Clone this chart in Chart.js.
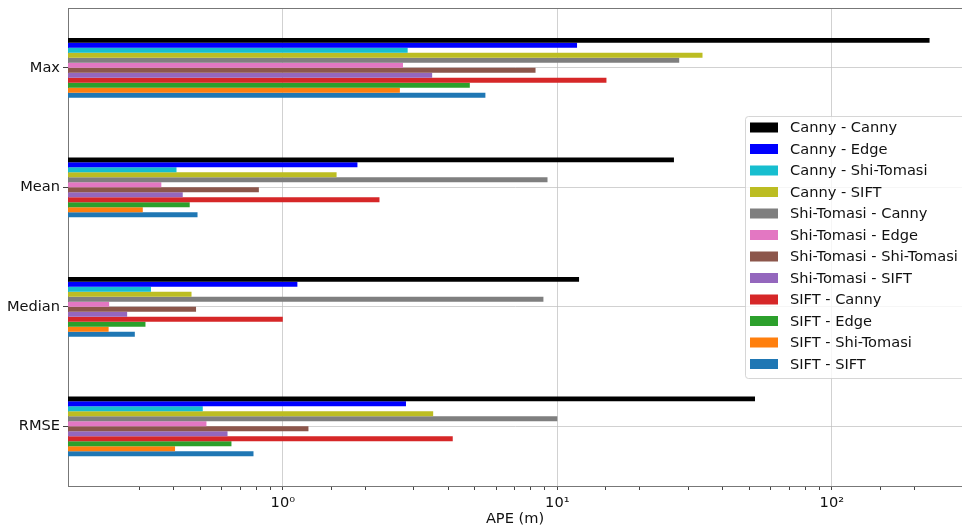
<!DOCTYPE html>
<html>
<head>
<meta charset="utf-8">
<script src="https://cdn.jsdelivr.net/npm/chart.js@4.4.1/dist/chart.umd.min.js"></script>
<style>
  html, body { margin: 0; padding: 0; background: #fff; }
  canvas { display: block; }
</style>
</head>
<body>
<canvas id="grafica" width="962" height="528"></canvas>
<script>
// categorías y series (APE en metros, escala log)
const categorias = ["Max", "Mean", "Median", "RMSE"];
const etiquetas = [
  "Canny - Canny", "Canny - Edge", "Canny - Shi-Tomasi", "Canny - SIFT",
  "Shi-Tomasi - Canny", "Shi-Tomasi - Edge", "Shi-Tomasi - Shi-Tomasi", "Shi-Tomasi - SIFT",
  "SIFT - Canny", "SIFT - Edge", "SIFT - Shi-Tomasi", "SIFT - SIFT"
];
const colores = [
  "#000000", "#0000ff", "#17becf", "#bcbd22",
  "#7f7f7f", "#e377c2", "#8c564b", "#9467bd",
  "#d62728", "#2ca02c", "#ff7f0e", "#1f77b4"
];
const cannyCanny = [227, 26.6, 12.0, 52.5];
const cannyEdge = [11.8, 1.87, 1.13, 2.81];
const cannyShiTomasi = [2.85, 0.41, 0.331, 0.511];
const cannySift = [33.8, 1.57, 0.465, 3.53];
const shiCanny = [27.8, 9.21, 8.9, 10.0];
const shiEdge = [2.74, 0.361, 0.233, 0.527];
const shiShi = [8.33, 0.818, 0.483, 1.24];
const shiSift = [3.50, 0.432, 0.271, 0.629];
const siftCanny = [15.1, 2.25, 1.0, 4.16];
const siftEdge = [4.80, 0.458, 0.316, 0.650];
const siftShi = [2.67, 0.309, 0.232, 0.405];
const siftSift = [5.47, 0.489, 0.289, 0.782];
const series = [cannyCanny, cannyEdge, cannyShiTomasi, cannySift, shiCanny, shiEdge,
  shiShi, shiSift, siftCanny, siftEdge, siftShi, siftSift];
const xTicks = [1, 10, 100];
const xTickLabels = ["10\u2070", "10\u00b9", "10\u00b2"];

Chart.defaults.font.family = "'DejaVu Sans', sans-serif";
Chart.defaults.font.size = 14.6;
Chart.defaults.color = "#111";

const esMayor = v => Math.abs(Math.log10(v) - Math.round(Math.log10(v))) < 1e-6;
const colorGrid = "rgba(190,190,190,0.7)";
const sinPadding = s => { s.paddingTop = s.paddingBottom = s.paddingLeft = s.paddingRight = 0; };

// marco superior + leyenda dentro del área (como matplotlib)
const leyenda = {
  id: "leyenda",
  afterDraw(chart) {
    const ctx = chart.ctx;
    const a = chart.chartArea;
    ctx.save();
    ctx.strokeStyle = "#777";
    ctx.lineWidth = 1;
    ctx.beginPath();
    ctx.moveTo(a.left, a.top + 0.5);
    ctx.lineTo(a.right, a.top + 0.5);
    ctx.stroke();

    ctx.fillStyle = "rgba(255,255,255,0.8)";
    ctx.strokeStyle = "rgba(204,204,204,0.8)";
    ctx.beginPath();
    ctx.roundRect(745.5, 116.5, 240, 262, 3);
    ctx.fill();
    ctx.stroke();
    ctx.font = "14.6px 'DejaVu Sans'";
    ctx.textBaseline = "middle";
    chart.data.datasets.forEach((ds, i) => {
      const y = 127.5 + i * 21.5;
      ctx.fillStyle = ds.backgroundColor;
      ctx.fillRect(750, y - 5, 28, 10);
      ctx.fillStyle = "#111";
      ctx.fillText(ds.label, 790, y + 1);
    });
    ctx.restore();
  }
};

const ctx = document.getElementById("grafica").getContext("2d");
new Chart(ctx, {
  type: "bar",
  data: {
    labels: categorias,
    datasets: series.map((d, i) => ({
      label: etiquetas[i],
      data: d,
      backgroundColor: colores[i],
      borderWidth: 0,
      categoryPercentage: 0.5,
      barPercentage: 1.0
    }))
  },
  options: {
    indexAxis: "y",
    responsive: false,
    animation: false,
    layout: { padding: { top: 8, right: 0, left: 0, bottom: 0 } },
    plugins: {
      legend: { display: false },
      tooltip: { enabled: false }
    },
    scales: {
      x: {
        type: "logarithmic",
        min: 0.165,
        max: 298,
        z: 1,
        afterFit: s => { s.height = 42; sinPadding(s); },
        ticks: {
          autoSkip: false,
          maxRotation: 0,
          padding: 4,
          color: "#111",
          callback: v => {
            const k = xTicks.findIndex(t => Math.abs(t - v) < 1e-9);
            return k >= 0 ? xTickLabels[k] : "";
          }
        },
        grid: {
          color: c => (c.tick && esMayor(c.tick.value) && c.tick.value > 0.5) ? colorGrid : "transparent",
          tickColor: c => (c.tick && c.tick.value > 0.17) ? "#444" : "transparent",
          tickLength: 4,
          lineWidth: 1
        },
        border: { display: true, color: "#777", width: 1 },
        title: { display: true, text: "APE (m)", padding: { top: 2, bottom: 0 }, color: "#111" }
      },
      y: {
        z: 1,
        afterFit: s => { s.width = 68; sinPadding(s); },
        ticks: { padding: 3, color: "#111" },
        grid: {
          offset: false,
          color: colorGrid,
          tickColor: "#444",
          tickLength: 5
        },
        border: { display: true, color: "#777", width: 1 }
      }
    }
  },
  plugins: [leyenda]
});
</script>
</body>
</html>
